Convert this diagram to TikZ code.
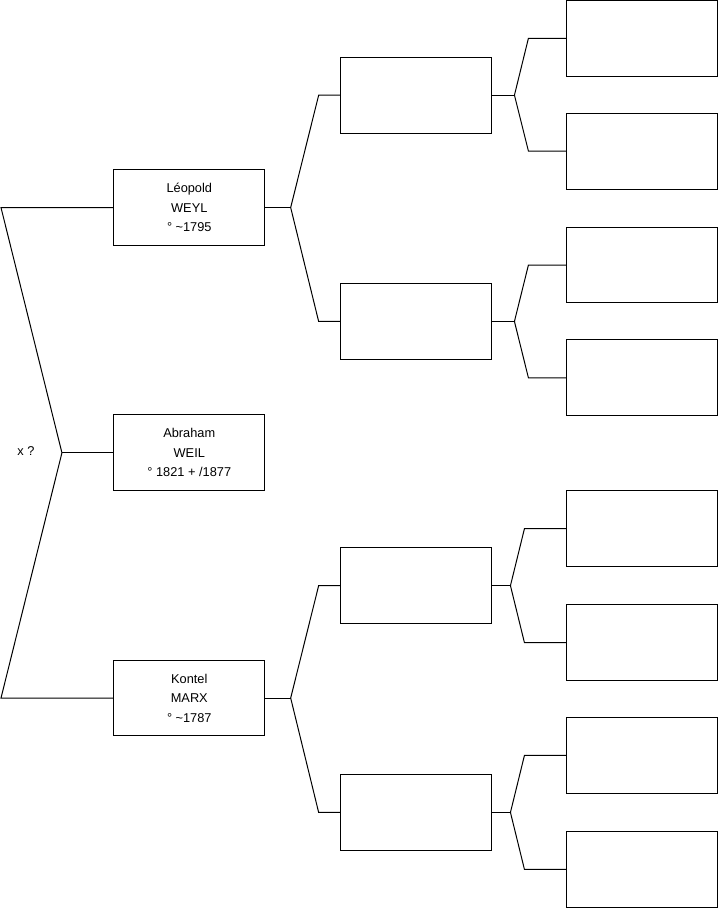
\documentclass[tikz,border=0pt]{standalone}
\usepackage{fontspec}
\setmainfont{Liberation Sans}
\begin{document}
\begin{tikzpicture}[x=0.75pt,y=-0.75pt,line width=0.75pt,
    box/.style={draw, minimum width=113.25pt, minimum height=57pt,
      inner sep=0pt, align=center, font=\fontsize{9.6}{14.6}\selectfont}]
    \useasboundingbox (0,-0.3) rectangle (719.4,908.7);
    % generation 1
    \node[box] (weyl) at (189.5,207.5) {Léopold\\WEYL\\° \textasciitilde1795};
    \node[box] (weil) at (189.5,453) {Abraham\\WEIL\\° 1821 + /1877};
    \node[box] (marx) at (189.5,698.5) {Kontel\\MARX\\° \textasciitilde1787};
    \node[font=\fontsize{9.6}{11}\selectfont] (xq) at (26,451.5) {x ?};
    % generation 2
    \node[box] (fw) at (416.5,95) {};
    \node[box] (mw) at (416.5,321.5) {};
    \node[box] (fm) at (416.5,586) {};
    \node[box] (mm) at (416.5,813) {};
    % generation 3
    \node[box] (fwf) at (643,38) {};
    \node[box] (fwm) at (643,151) {};
    \node[box] (mwf) at (643,265) {};
    \node[box] (mwm) at (643,378) {};
    \node[box] (fmf) at (643,529) {};
    \node[box] (fmm) at (643,643) {};
    \node[box] (mmf) at (643,756) {};
    \node[box] (mmm) at (643,870) {};
    % couple
    \coordinate (x0) at (62,453);
    \coordinate (x1) at (1,207.5);
    \coordinate (x2) at (1,698.5);
    \draw (weyl.west) -- (x1) -- (x0) -- (x2) -- (marx.west);
    \draw (x0) -- (weil.west);
    % parents
    \coordinate (w0) at (291,207.5);
    \coordinate (w1) at (319,95);
    \coordinate (w2) at (319,321.5);
    \draw (fw.west) -- (w1) -- (w0) -- (w2) -- (mw.west);
    \draw (w0) -- (weyl.east);
    \coordinate (m0) at (291,698.5);
    \coordinate (m1) at (319,586);
    \coordinate (m2) at (319,813);
    \draw (fm.west) -- (m1) -- (m0) -- (m2) -- (mm.west);
    \draw (m0) -- (marx.east);
    % grandparents
    \coordinate (fw0) at (515,95);
    \coordinate (fw1) at (529,38);
    \coordinate (fw2) at (529,151);
    \draw (fwf.west) -- (fw1) -- (fw0) -- (fw2) -- (fwm.west);
    \draw (fw0) -- (fw.east);
    \coordinate (mw0) at (515,321.5);
    \coordinate (mw1) at (529,265);
    \coordinate (mw2) at (529,378);
    \draw (mwf.west) -- (mw1) -- (mw0) -- (mw2) -- (mwm.west);
    \draw (mw0) -- (mw.east);
    \coordinate (fm0) at (511,586);
    \coordinate (fm1) at (525,529);
    \coordinate (fm2) at (525,643);
    \draw (fmf.west) -- (fm1) -- (fm0) -- (fm2) -- (fmm.west);
    \draw (fm0) -- (fm.east);
    \coordinate (mm0) at (511,813);
    \coordinate (mm1) at (525,756);
    \coordinate (mm2) at (525,870);
    \draw (mmf.west) -- (mm1) -- (mm0) -- (mm2) -- (mmm.west);
    \draw (mm0) -- (mm.east);
\end{tikzpicture}
\end{document}
